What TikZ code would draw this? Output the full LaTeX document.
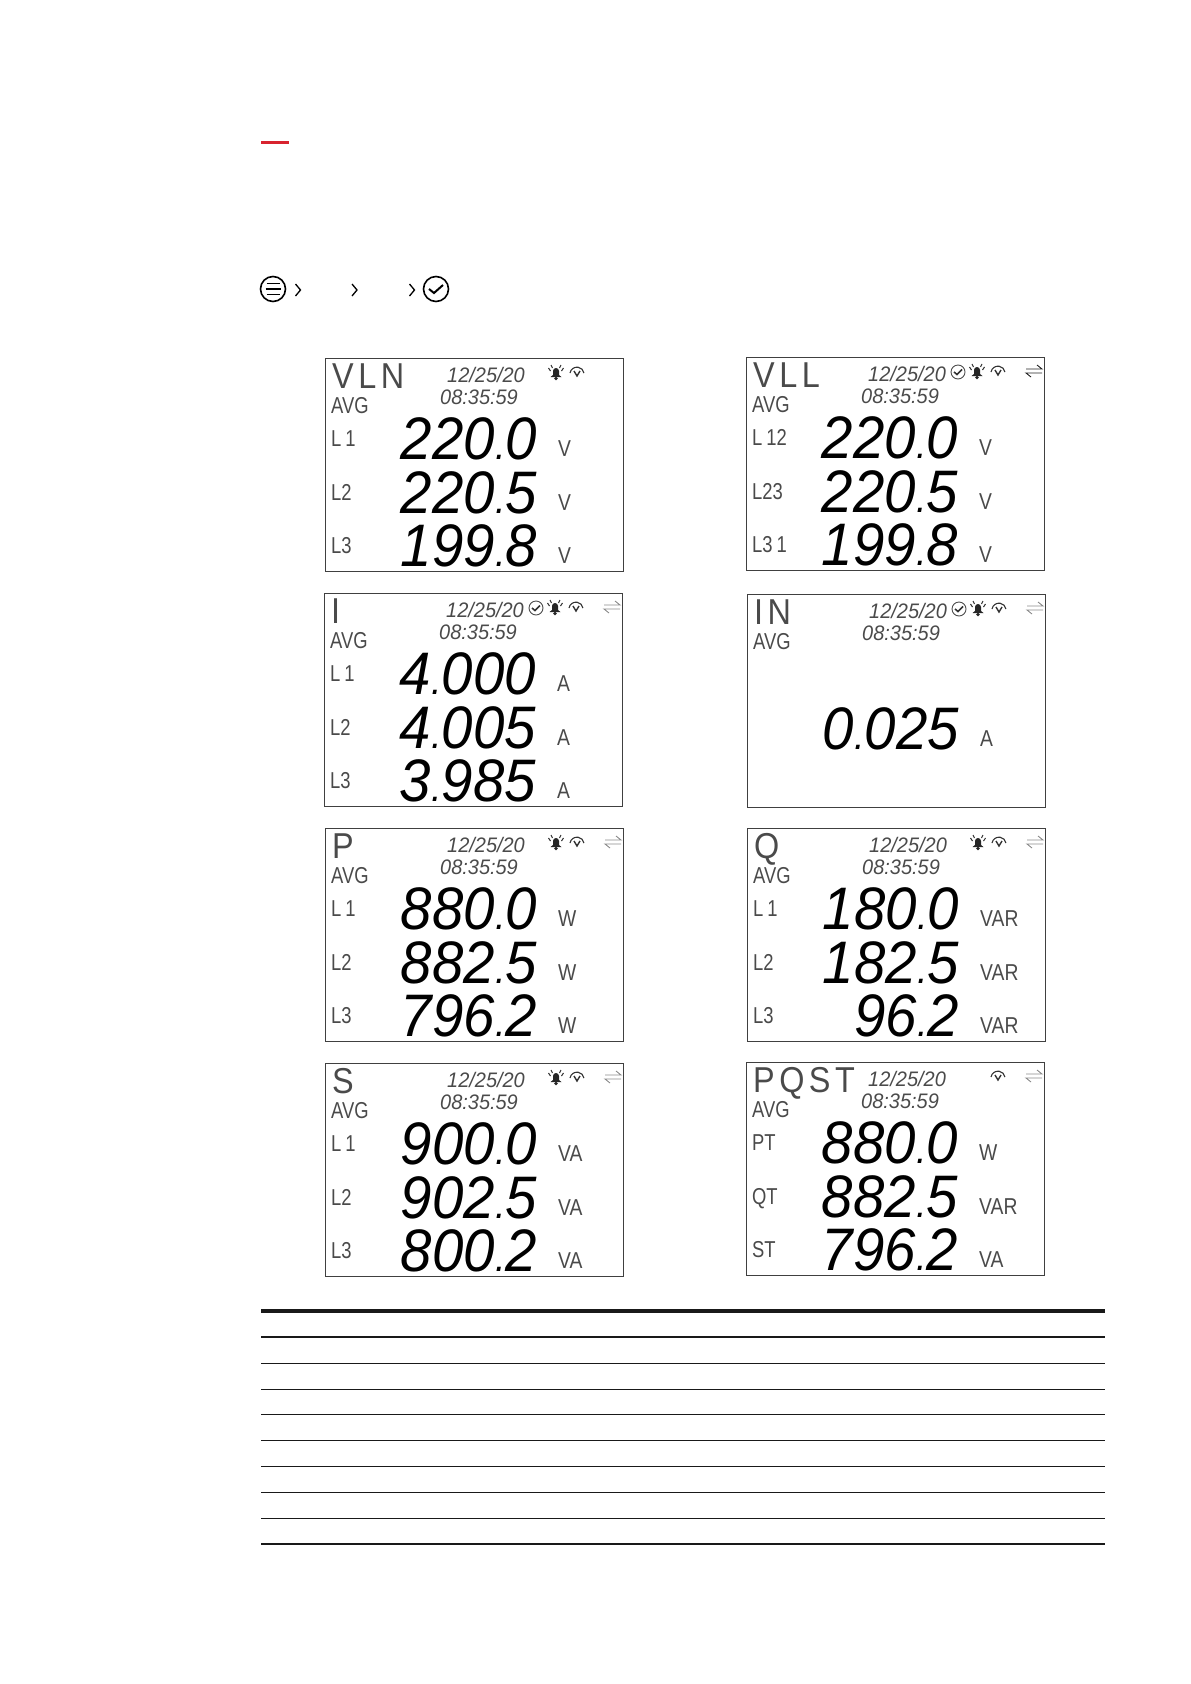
\documentclass[tikz,border=0pt]{standalone}
\usepackage{fontspec}
\setmainfont{Liberation Sans}
\definecolor{barred}{HTML}{D8232F}
\definecolor{lcdgray}{HTML}{4A4A4A}
\tikzset{
    lcdframe/.style={draw=black!75,line width=1.3pt},
    lcdbig/.style={font=\itshape\fontsize{60}{60}\selectfont,anchor=base east,inner sep=0pt,xscale=.94,transform shape},
    lcdtitle/.style={font=\fontsize{36}{36}\selectfont,text=lcdgray,anchor=base west,inner sep=0pt,xscale=.9,transform shape},
    lcdsmall/.style={font=\fontsize{23}{23}\selectfont,text=lcdgray,anchor=base west,inner sep=0pt,xscale=.8,transform shape},
    lcdclock/.style={font=\itshape\fontsize{21}{21}\selectfont,text=lcdgray,anchor=base west,inner sep=0pt,xscale=.95,transform shape},
    tablerule/.style={line width=#1,draw=black!90},
    tablerule/.default=1pt,
    pics/alarm/.style={code={
        \fill[black!85] (-5.5,5) -- (-3,3) -- (-3,-1) arc[start angle=180,end angle=360,radius=3] -- (3,3) -- (5.5,5) -- cycle;
        \fill[black!85] (0,6.5) circle (1.8);
        \draw[black!80,line width=1pt] (-5.5,-1) -- (-7.5,-4) (5.5,-1) -- (7.5,-4) (-3.5,-4) -- (-5,-7) (3.5,-4) -- (5,-7);}},
    pics/gauge/.style={code={
        \draw[black!80,line width=1.1pt] (-7,2) arc[start angle=190,end angle=350,radius=7.1];
        \draw[black!80,line width=1.4pt] (-3,0) -- (0,5) -- (3,0);}},
    pics/tick/.style={code={
        \draw[black!70,line width=.9pt] (0,0) circle (7);
        \draw[black!80,line width=1.6pt] (-4,0) -- (-1,2.5) -- (4,-2.5);}},
    pics/swap/.style={code={
        \draw[#1,line width=.9pt] (-8,-2) -- (8,-2) -- (3,-6);
        \draw[#1,line width=.9pt] (8,2) -- (-8,2) -- (-3,6);}},
    pics/swap/.default=black!45,
}
% header of one screen: name, title, date and time
\newcommand{\lcdhead}[2]{
    \draw[lcdframe] (.5,.5) rectangle (298.5,213.5);
    \node[lcdtitle] (#1title) at (7,30) {\spaceskip=5pt\relax #2};
    \node[lcdsmall] (#1avg) at (6,55) {AVG};
    \node[lcdclock] (#1date) at (122,24) {12/25/20};
    \node[lcdclock] (#1time) at (115,46) {08:35:59};
}
% one row: name, row number, label, integer part, decimals, unit
\newcommand{\lcdrow}[6]{
    \pgfmathsetmacro{\rowy}{int(48+53.5*#2)}
    \node[lcdsmall] (#1lab#2) at (6,\rowy-13) {\spaceskip=5pt\relax #3};
    \node[lcdbig] (#1num#2) at (212,\rowy) {#4{\fontsize{40}{40}\selectfont.}#5};
    \node[lcdsmall,xscale=1.05] (#1unit#2) at (233,\rowy-3) {#6};
}
\begin{document}
\begin{tikzpicture}[x=1pt,y=-1pt]
\useasboundingbox (0,0) rectangle (1191,1684);

\fill[barred] (261,140.5) rectangle (289,143.5);

% menu path
\draw[line width=1.6pt] (273,289) circle (12.5);
\draw[line width=1.8pt] (266.5,283.5) -- (279.5,283.5) (265.5,289) -- (280.5,289) (266.5,294.5) -- (279.5,294.5);
\foreach \X in {295.5,352,409.5}
    \draw[line width=1.3pt] (\X,284) -- (\X+5,290) -- (\X,296);
\draw[line width=1.6pt] (436,289) circle (12.5);
\draw[line width=2pt] (429,289) -- (434,293) -- (443,285);

% screens
\begin{scope}[shift={(325,358)}]
    \lcdhead{vln}{V L N}
    \lcdrow{vln}{1}{L 1}{220}{0}{V}
    \lcdrow{vln}{2}{L2}{220}{5}{V}
    \lcdrow{vln}{3}{L3}{199}{8}{V}
    \pic at (231,14) {alarm};
    \pic at (252,13) {gauge};
\end{scope}
\begin{scope}[shift={(746,357)}]
    \lcdhead{vll}{V L L}
    \lcdrow{vll}{1}{L 12}{220}{0}{V}
    \lcdrow{vll}{2}{L23}{220}{5}{V}
    \lcdrow{vll}{3}{L3 1}{199}{8}{V}
    \pic at (212,15) {tick};
    \pic at (231,14) {alarm};
    \pic at (252,13) {gauge};
    \pic at (288,14) {swap=black!85};
\end{scope}
\begin{scope}[shift={(324,593)}]
    \lcdhead{cur}{I}
    \lcdrow{cur}{1}{L 1}{4}{000}{A}
    \lcdrow{cur}{2}{L2}{4}{005}{A}
    \lcdrow{cur}{3}{L3}{3}{985}{A}
    \pic at (212,15) {tick};
    \pic at (231,14) {alarm};
    \pic at (252,13) {gauge};
    \pic at (288,14) {swap};
\end{scope}
\begin{scope}[shift={(747,594)}]
    \lcdhead{neu}{I N}
    \lcdrow{neu}{2}{}{0}{025}{A}
    \pic at (212,15) {tick};
    \pic at (231,14) {alarm};
    \pic at (252,13) {gauge};
    \pic at (288,14) {swap};
\end{scope}
\begin{scope}[shift={(325,828)}]
    \lcdhead{act}{P}
    \lcdrow{act}{1}{L 1}{880}{0}{W}
    \lcdrow{act}{2}{L2}{882}{5}{W}
    \lcdrow{act}{3}{L3}{796}{2}{W}
    \pic at (231,14) {alarm};
    \pic at (252,13) {gauge};
    \pic at (288,14) {swap};
\end{scope}
\begin{scope}[shift={(747,828)}]
    \lcdhead{rea}{Q}
    \lcdrow{rea}{1}{L 1}{180}{0}{VAR}
    \lcdrow{rea}{2}{L2}{182}{5}{VAR}
    \lcdrow{rea}{3}{L3}{96}{2}{VAR}
    \pic at (231,14) {alarm};
    \pic at (252,13) {gauge};
    \pic at (288,14) {swap};
\end{scope}
\begin{scope}[shift={(325,1063)}]
    \lcdhead{app}{S}
    \lcdrow{app}{1}{L 1}{900}{0}{VA}
    \lcdrow{app}{2}{L2}{902}{5}{VA}
    \lcdrow{app}{3}{L3}{800}{2}{VA}
    \pic at (231,14) {alarm};
    \pic at (252,13) {gauge};
    \pic at (288,14) {swap};
\end{scope}
\begin{scope}[shift={(746,1062)}]
    \lcdhead{tot}{P Q S T}
    \lcdrow{tot}{1}{PT}{880}{0}{W}
    \lcdrow{tot}{2}{QT}{882}{5}{VAR}
    \lcdrow{tot}{3}{ST}{796}{2}{VA}
    \pic at (252,13) {gauge};
    \pic at (288,14) {swap};
\end{scope}

% empty table
\draw[tablerule=4pt] (261,1311) -- (1105,1311);
\draw[tablerule=2pt] (261,1337) -- (1105,1337);
\foreach \Y in {1363.3,1389,1414.5,1440.5,1466,1492,1518}
    \draw[tablerule=1pt] (261,\Y) -- (1105,\Y);
\draw[tablerule=2.2pt] (261,1544) -- (1105,1544);
\end{tikzpicture}
\end{document}
